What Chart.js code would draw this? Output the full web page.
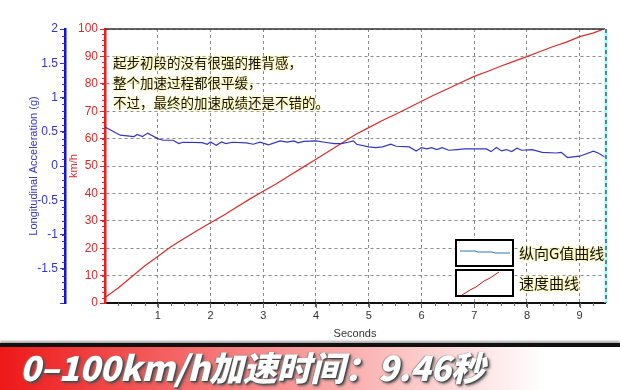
<!DOCTYPE html>
<html>
<head>
<meta charset="utf-8">
<script src="https://cdn.jsdelivr.net/npm/chart.js@4.4.0/dist/chart.umd.min.js"></script>
<style>
body { margin: 0; width: 620px; height: 390px; overflow: hidden; background: #fff; font-family: "Noto Sans CJK SC", sans-serif; }
#wrap { position: absolute; left: 0; top: 0; width: 620px; height: 345px; }
.glow { position: absolute; color: #111; text-shadow: 0 0 3px #fff4a8, 0 0 3px #fff4a8, 0 0 4px #fff4a8; white-space: nowrap; }
#note { left: 113px; top: 52px; font-size: 13.5px; line-height: 20px; }
#lg1 { left: 519px; top: 242px; font-size: 15px; }
#lg2 { left: 519px; top: 272px; font-size: 15px; }
#banner { position: absolute; left: 0; top: 343px; width: 620px; height: 47px; border-top: 4px solid #111;
  box-shadow: 0 -2px 2px #aaa;
  background: linear-gradient(to right, #ee1818 0%, #f24848 18%, #f78484 40%, #fcc4c4 65%, #fff 88%); }
#banner span { position: absolute; left: 20px; top: 3px; font-size: 34px; line-height: 34px; font-weight: 900; font-style: italic; color: #fff;
  letter-spacing: -0.3px; text-shadow: 1px 1px 1px #444, -1px 0 1px #888, 2px 2px 3px #555; }
</style>
</head>
<body>
<div id="wrap"><canvas id="accelChart"></canvas></div>
<div id="note" class="glow">起步初段的没有很强的推背感，<br>整个加速过程都很平缓，<br>不过，最终的加速成绩还是不错的。</div>
<div id="lg1" class="glow">纵向G值曲线</div>
<div id="lg2" class="glow">速度曲线</div>
<div id="banner"><span>0–100km/h加速时间：9.46秒</span></div>
<script>
const blue = "#3434c8";
const red = "#d82c2c";

// speed curve (km/h) vs seconds
const speedTimes = [0, 0.25, 0.5, 0.75, 1.0, 1.25, 1.5, 1.75, 2.0, 2.25, 2.5, 2.75, 3.0, 3.25, 3.5, 3.75, 4.0, 4.25, 4.5, 4.75,
  5.0, 5.25, 5.5, 5.75, 6.0, 6.25, 6.5, 6.75, 7.0, 7.25, 7.5, 7.75, 8.0, 8.25, 8.5, 8.75, 9.0, 9.25, 9.46];
const speedValues = [2, 5.5, 9.5, 13.5, 17, 20.5, 23.5, 26.5, 29.3, 32, 35, 38, 40.8, 43.5, 46.5, 49.5, 52.5, 55.5, 58.5, 61.5,
  64, 66.5, 68.8, 71.2, 73.6, 76, 78.2, 80.5, 82.7, 84.5, 86.4, 88.2, 89.9, 91.8, 93.6, 95.2, 97.2, 98.5, 100];

// longitudinal acceleration (g) vs seconds
const gTimes = [0, 0.29, 0.55, 0.61, 0.71, 0.81, 1.0, 1.10, 1.29, 1.40, 1.48, 1.84, 1.94, 2.0, 2.11, 2.21, 2.29, 2.42, 2.68, 2.81,
  2.94, 3.10, 3.32, 3.45, 3.58, 3.66, 3.77, 4.0, 4.16, 4.35, 4.48, 4.61, 4.71, 4.77, 5.0, 5.13, 5.26, 5.42, 5.52, 5.77,
  5.90, 6.0, 6.10, 6.19, 6.29, 6.39, 6.52, 6.68, 6.81, 7.23, 7.32, 7.42, 7.52, 7.61, 7.71, 7.81, 7.90, 8.10, 8.29, 8.55,
  8.65, 8.77, 8.87, 9.0, 9.26, 9.35, 9.48];
const gValues = [0.57, 0.45, 0.43, 0.46, 0.43, 0.48, 0.40, 0.376, 0.376, 0.327, 0.347, 0.342, 0.318, 0.35, 0.303, 0.35, 0.327, 0.347, 0.337, 0.318,
  0.347, 0.308, 0.366, 0.35, 0.366, 0.337, 0.36, 0.366, 0.347, 0.327, 0.327, 0.347, 0.366, 0.318, 0.279, 0.269, 0.279, 0.318, 0.288, 0.279,
  0.22, 0.269, 0.25, 0.269, 0.24, 0.269, 0.23, 0.24, 0.25, 0.25, 0.21, 0.269, 0.22, 0.24, 0.21, 0.26, 0.23, 0.24, 0.2, 0.19,
  0.2, 0.123, 0.133, 0.143, 0.216, 0.19, 0.13];

const secondTicks = [1, 2, 3, 4, 5, 6, 7, 8, 9];

// minor ticks, plot frame and legend boxes
const extras = {
    id: 'extras',
    afterDraw(chart) {
        const ctx = chart.ctx;
        const x = chart.scales.x, y = chart.scales.y, g = chart.scales.g;
        const area = chart.chartArea;
        ctx.save();
        ctx.lineWidth = 1;
        ctx.strokeStyle = '#666';
        for (let i = 1; i < 38; i++) {
            const px = Math.round(x.getPixelForValue(i * 0.25)) + 0.5;
            ctx.beginPath(); ctx.moveTo(px, area.bottom); ctx.lineTo(px, area.bottom + (i % 4 ? 3 : 5)); ctx.stroke();
        }
        ctx.strokeStyle = red;
        for (let v = 2; v < 100; v += 2) {
            const py = Math.round(y.getPixelForValue(v)) + 0.5;
            ctx.beginPath(); ctx.moveTo(y.right - 3, py); ctx.lineTo(y.right, py); ctx.stroke();
        }
        ctx.strokeStyle = blue;
        for (let v = -19; v < 20; v++) {
            const py = Math.round(g.getPixelForValue(v / 10)) + 0.5;
            ctx.beginPath(); ctx.moveTo(g.right - 3, py); ctx.lineTo(g.right, py); ctx.stroke();
        }
        // frame
        ctx.strokeStyle = '#333';
        ctx.lineWidth = 1.5;
        ctx.beginPath(); ctx.moveTo(area.left, area.top); ctx.lineTo(area.right, area.top); ctx.stroke();
        ctx.strokeStyle = '#9ff';
        ctx.lineWidth = 3;
        ctx.beginPath(); ctx.moveTo(area.right + 1, area.top); ctx.lineTo(area.right + 1, area.bottom); ctx.stroke();
        ctx.strokeStyle = '#555';
        ctx.lineWidth = 1.5;
        ctx.setLineDash([4, 3]);
        ctx.beginPath(); ctx.moveTo(area.right + 1, area.top); ctx.lineTo(area.right + 1, area.bottom); ctx.stroke();
        ctx.setLineDash([]);
        // legend boxes
        ctx.fillStyle = '#fff';
        ctx.strokeStyle = '#000';
        ctx.lineWidth = 2;
        ctx.fillRect(456, 240, 57, 26); ctx.strokeRect(456, 240, 57, 26);
        ctx.fillRect(456, 270, 57, 26); ctx.strokeRect(456, 270, 57, 26);
        ctx.lineWidth = 1;
        ctx.strokeStyle = '#2a78c0';
        ctx.beginPath(); ctx.moveTo(460, 251); ctx.lineTo(475, 251); ctx.lineTo(478, 252); ctx.lineTo(492, 252);
        ctx.lineTo(495, 253); ctx.lineTo(510, 253); ctx.stroke();
        ctx.strokeStyle = '#c01818';
        ctx.beginPath(); ctx.moveTo(462, 295); ctx.lineTo(470, 290); ctx.lineTo(476, 287); ctx.lineTo(484, 281);
        ctx.lineTo(490, 278); ctx.lineTo(499, 272); ctx.stroke();
        ctx.restore();
    }
};

new Chart(document.getElementById('accelChart'), {
    type: 'line',
    data: {
        datasets: [{
            label: 'G',
            data: gTimes.map((t, i) => ({ x: t, y: gValues[i] })),
            yAxisID: 'g',
            borderColor: blue,
            borderWidth: 1.2,
            pointRadius: 0,
            tension: 0
        }, {
            label: 'Speed',
            data: speedTimes.map((t, i) => ({ x: t, y: speedValues[i] })),
            yAxisID: 'y',
            borderColor: red,
            borderWidth: 1.2,
            pointRadius: 0,
            tension: 0
        }]
    },
    options: {
        responsive: true,
        maintainAspectRatio: false,
        animation: false,
        layout: { padding: { left: 25, top: 29, right: 15, bottom: 0 } },
        plugins: { legend: false, tooltip: false },
        scales: {
            x: {
                type: 'linear',
                min: 0,
                max: 9.48,
                afterBuildTicks: scale => { scale.ticks = secondTicks.map(v => ({ value: v })); },
                afterFit: scale => { scale.height = 42; },
                ticks: { color: '#333', font: { family: 'Liberation Sans', size: 11 }, padding: 2 },
                grid: { color: '#8a8a8a', tickLength: 4, tickColor: '#666' },
                border: { color: '#111', width: 2, dash: [3, 3] },
                title: { display: true, text: 'Seconds', color: '#333', font: { family: 'Liberation Sans', size: 11 }, padding: { top: 0 } }
            },
            y: {
                position: 'left',
                weight: 0,
                min: 0,
                max: 100,
                afterFit: scale => { scale.width = 40; },
                ticks: { stepSize: 10, color: red, font: { family: 'Liberation Sans', size: 12 }, padding: 2 },
                grid: { color: '#8a8a8a', tickLength: 5, tickColor: red },
                border: { color: '#ee1c1c', width: 2.5, dash: [3, 3] },
                title: { display: true, text: 'km/h', color: red, font: { family: 'Liberation Sans', size: 11 }, padding: 2 }
            },
            g: {
                position: 'left',
                weight: 1,
                min: -2,
                max: 2,
                afterFit: scale => { scale.width = 40; },
                ticks: { stepSize: 0.5, color: blue, font: { family: 'Liberation Sans', size: 12 }, padding: 2,
                    callback: v => v === -2 ? '' : v },
                grid: { drawOnChartArea: false, tickLength: 5, color: blue },
                border: { color: '#1010d8', width: 2.5 },
                title: { display: true, text: 'Longitudinal Acceleration (g)', color: blue, font: { family: 'Liberation Sans', size: 11 }, padding: 2 }
            }
        }
    },
    plugins: [extras]
});
</script>
</body>
</html>
